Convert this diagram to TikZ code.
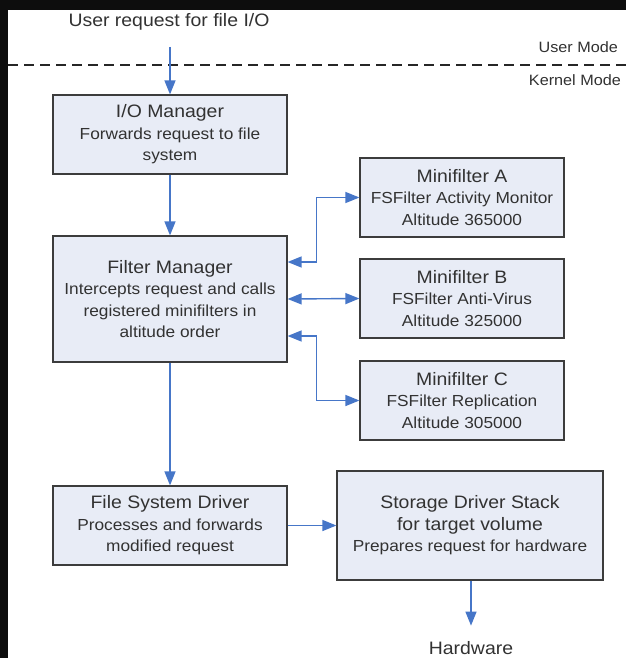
\documentclass[tikz,border=0pt]{standalone}
\usepackage{fontspec}
\setmainfont{Liberation Sans}[FakeStretch=1.08]
\usetikzlibrary{arrows.meta,shadows}

\definecolor{boxfill}{RGB}{232,236,246}
\definecolor{boxline}{RGB}{60,60,60}
\definecolor{flow}{RGB}{70,118,200}
\definecolor{txt}{RGB}{50,50,50}

\newcommand{\boxtitle}[1]{{\fontsize{18}{21.5}\selectfont #1}}

\tikzset{
  box/.style={draw=boxline, line width=1.2pt, fill=boxfill, align=center,
    text=txt, inner sep=0pt, font=\fontsize{16}{21.5}\selectfont,
    drop shadow={shadow xshift=1pt, shadow yshift=-1pt, opacity=0.25}},
  tip/.tip={Triangle[length=14pt,width=11pt]},
  flowarrow/.style={draw=flow, line width=1.4pt, -tip},
  twoway/.style={draw=flow, line width=1.4pt, tip-tip},
  lbl/.style={text=txt, inner sep=0pt},
  modeline/.style={draw=black!85, line width=1.3pt, dash pattern=on 10pt off 6pt}
}

\begin{document}
\begin{tikzpicture}[x=1pt,y=-1pt]
\useasboundingbox (0,0) rectangle (626,658);
\fill[black!95] (0,0) rectangle (626,658);
\fill[white] (8,10) rectangle (626,658);

% user / kernel boundary
\node[lbl, font=\fontsize{18}{21.5}\selectfont] (req) at (169,22) {User request for file I/O};
\coordinate (reqend) at (170,47);
\draw[modeline] (8,65) -- (626,65);
\node[lbl, anchor=east, font=\fontsize{15}{18}\selectfont] (um) at (618,47) {User Mode};
\node[lbl, anchor=east, font=\fontsize{15}{18}\selectfont] (km) at (621,80) {Kernel Mode};

% boxes
\node[box, minimum width=234, minimum height=79] (iom) at (170,134.5)
  {\boxtitle{I/O Manager}\\Forwards request to file\\system};
\node[box, minimum width=234, minimum height=126] (fm) at (170,299)
  {\boxtitle{Filter Manager}\\Intercepts request and calls\\registered minifilters in\\altitude order};
\node[box, minimum width=204, minimum height=79] (mfa) at (462,197.5)
  {\boxtitle{Minifilter A}\\FSFilter Activity Monitor\\Altitude 365000};
\node[box, minimum width=204, minimum height=79] (mfb) at (462,298.5)
  {\boxtitle{Minifilter B}\\FSFilter Anti-Virus\\Altitude 325000};
\node[box, minimum width=204, minimum height=79] (mfc) at (462,400.5)
  {\boxtitle{Minifilter C}\\FSFilter Replication\\Altitude 305000};
\node[box, minimum width=234, minimum height=79] (fsd) at (170,525.5)
  {\boxtitle{File System Driver}\\Processes and forwards\\modified request};
\node[box, minimum width=266, minimum height=109] (sds) at (470,525.5)
  {\boxtitle{Storage Driver Stack}\\\boxtitle{for target volume}\\Prepares request for hardware};
\node[lbl, font=\fontsize{18}{21.5}\selectfont] (hw) at (471,648) {Hardware};

% flow
\draw[flowarrow] (reqend) -- (iom.north);
\draw[flowarrow] (iom.south) -- (fm.north);
\draw[twoway] ([yshift=37pt]fm.east) -- ++(29,0) |- (mfa.west);
\draw[twoway] (fm.east) -- (mfb.west);
\draw[twoway] ([yshift=-37pt]fm.east) -- ++(29,0) |- (mfc.west);
\draw[flowarrow] (fm.south) -- (fsd.north);
\draw[flowarrow] (fsd.east) -- (sds.west);
\draw[flowarrow] (sds.south -| hw.north) -- ++(0,45);
\end{tikzpicture}
\end{document}
